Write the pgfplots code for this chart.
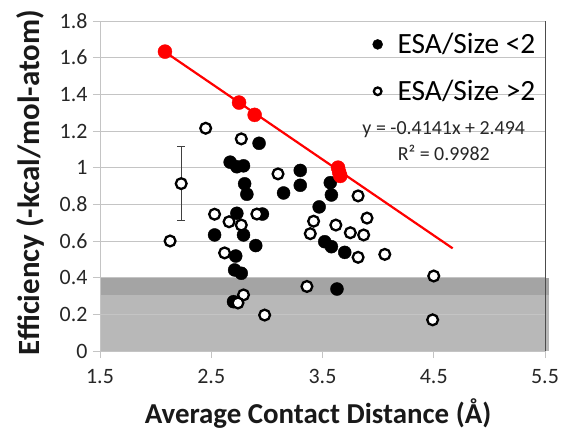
\documentclass[border=0pt]{standalone}
\usepackage{fontspec}
\setmainfont{Carlito}
\usepackage{pgfplots}
\pgfplotsset{compat=1.18}
\definecolor{bandlight}{HTML}{B8B8B8}
\definecolor{banddark}{HTML}{A4A4A4}
\definecolor{gridc}{HTML}{C4C4C4}
\begin{document}
\begin{tikzpicture}
\begin{axis}[
  set layers,
  scale only axis, width=445bp, height=330bp,
  xmin=1.5, xmax=5.5, ymin=0, ymax=1.8,
  clip=false,
  xtick={1.5,2.5,3.5,4.5,5.5},
  ytick={0,0.2,0.4,0.6,0.8,1,1.2,1.4,1.6,1.8},
  yticklabels={0,0.2,0.4,0.6,0.8,1,1.2,1.4,1.6,1.8},
  xticklabels={1.5,2.5,3.5,4.5,5.5},
  ymajorgrids, grid style={gridc, line width=0.9bp},
  axis lines*=left,
  axis line style={gridc, line width=0.9bp},
  tick style={gridc, line width=0.9bp},
  tick align=outside, major tick length=7bp,
  ticklabel style={font=\fontsize{22}{22}\selectfont, color=black!85},
  xticklabel style={yshift=-8bp},
  yticklabel style={xshift=-2bp},
  xlabel={Average Contact Distance (Å)},
  ylabel={Efficiency (-kcal/mol-atom)},
  xlabel style={font=\bfseries\fontsize{29}{29}\selectfont, color=black!90,
     at={(rel axis cs:0.49,-0.188)}, anchor=center},
  ylabel style={font=\bfseries\fontsize{31}{31}\selectfont, color=black!90,
     at={(rel axis cs:-0.157,0.51)}, anchor=center},
  legend style={draw=none, fill=none, at={(rel axis cs:0.99,0.975)}, anchor=north east,
    font=\fontsize{29.5}{29.5}\selectfont, row sep=21bp, cells={anchor=west},
    /tikz/every odd column/.append style={column sep=13bp}},
  legend cell align=left,
]
\coordinate (sw) at (rel axis cs:0,0);
\coordinate (ne) at (rel axis cs:1,1);
% shaded bands
\addplot[forget plot, on layer=axis background, fill=banddark, draw=none] coordinates {(1.5,0.4) (5.54,0.4)} \closedcycle;
\addplot[forget plot, on layer=axis background, fill=bandlight, draw=none] coordinates {(1.5,0.305) (5.54,0.305)} \closedcycle;
% right border line
\addplot[forget plot, black!70, line width=0.9bp] coordinates {(5.5,0) (5.5,1.8)};
% filled: ESA/Size < 2
\addplot[only marks, mark=*, mark size=6.5bp, black, mark options={fill=black, draw=black},
  legend image post style={mark size=5bp}] coordinates {
(2.67,1.03) (2.73,1.005) (2.79,1.01) (2.93,1.133) (2.80,0.912) (2.82,0.855)
(3.15,0.862) (3.30,0.985) (3.30,0.904) (3.57,0.918) (3.58,0.851) (3.47,0.786)
(2.73,0.751) (2.96,0.747) (2.53,0.633) (2.79,0.633) (2.90,0.575) (2.72,0.518)
(2.71,0.442) (2.77,0.424) (2.70,0.269) (3.52,0.596) (3.58,0.569) (3.70,0.538)
(3.63,0.338)
};
\addlegendentry{ESA/Size <2}
% error bar
\addplot[forget plot, draw=none, mark=none, black!75,
  error bars/.cd, y dir=both, y explicit,
  error bar style={black!75, line width=0.8bp},
  error mark options={rotate=90, mark size=4bp, black!75, line width=0.8bp}]
  coordinates {(2.23,0.915) +- (0,0.2)};
% open: ESA/Size > 2
\addplot[only marks, mark=*, mark size=5.4bp, black, mark options={fill=white, draw=black, line width=2.3bp},
  legend image post style={mark size=3.8bp, line width=1.6bp}] coordinates {
(2.45,1.215) (2.77,1.157) (3.10,0.966) (2.23,0.913) (2.13,0.60) (2.53,0.746)
(2.66,0.705) (2.77,0.687) (2.91,0.747) (2.62,0.535) (3.42,0.708) (3.39,0.640)
(3.62,0.687) (3.75,0.645) (3.87,0.633) (3.90,0.725) (3.82,0.846) (3.82,0.511)
(4.06,0.527) (4.50,0.409) (4.49,0.17) (3.36,0.352) (2.79,0.306) (2.74,0.262)
(2.98,0.196)
};
\addlegendentry{ESA/Size >2}
% red trend line and red points
\addplot[forget plot, red, line width=2.2bp] coordinates {(2.08,1.633) (4.67,0.560)};
\addplot[forget plot, only marks, mark=*, mark size=7bp, red, mark options={fill=red, draw=red}] coordinates {
(2.084,1.633) (2.75,1.355) (2.89,1.288) (3.64,1.0) (3.65,0.975) (3.66,0.955)
};
\node[font=\fontsize{20}{20}\selectfont, color=black!85] at (axis cs:4.59,1.21) {y = -0.4141x + 2.494};
\node[font=\fontsize{20}{20}\selectfont, color=black!85] at (axis cs:4.59,1.08) {R² = 0.9982};
\end{axis}
\pgfresetboundingbox
\path ([xshift=-100bp,yshift=-80bp]sw) rectangle ([xshift=16bp,yshift=21bp]ne);
\end{tikzpicture}
\end{document}
